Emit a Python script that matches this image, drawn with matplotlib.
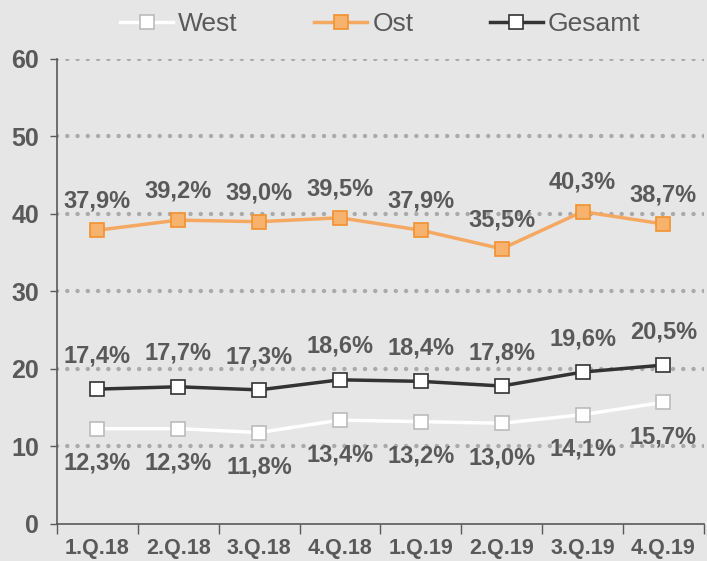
import numpy as np
import matplotlib
matplotlib.use("Agg")
from matplotlib import pyplot as plt

quarters = ["1.Q.18", "2.Q.18", "3.Q.18", "4.Q.18", "1.Q.19", "2.Q.19", "3.Q.19", "4.Q.19"]
west = [12.3, 12.3, 11.8, 13.4, 13.2, 13.0, 14.1, 15.7]
ost = [37.9, 39.2, 39.0, 39.5, 37.9, 35.5, 40.3, 38.7]
gesamt = [17.4, 17.7, 17.3, 18.6, 18.4, 17.8, 19.6, 20.5]

plt.rcParams['font.family'] = ['Liberation Sans', 'DejaVu Sans']
bg = '#e6e6e6'
txt = '#595959'

fig = plt.figure(figsize=(7.07, 5.61), dpi=100, facecolor=bg)
ax = fig.add_axes([0.0806, 0.066, 0.915, 0.829], facecolor=bg)

x = np.arange(len(quarters))

# dotted grid
for yv in range(10, 61, 10):
    ax.axhline(yv, color='#aaaaaa', lw=3.2, linestyle=(0, (0.01, 2.3)),
               dash_capstyle='round', zorder=1)

ax.plot(x, west, color='white', lw=2.5, marker='s', ms=10, mfc='white',
        mec='#bbbbbb', mew=1.2, label='West', zorder=3)
ax.plot(x, ost, color='#f5a862', lw=2.5, marker='s', ms=10, mfc='#f7b26d',
        mec='#f39130', mew=1.2, label='Ost', zorder=3)
ax.plot(x, gesamt, color='#333333', lw=2.5, marker='s', ms=10, mfc='white',
        mec='#333333', mew=1.2, label='Gesamt', zorder=3)

def fmt(v):
    return ("%.1f%%" % v).replace('.', ',')

lbl = dict(ha='center', va='center', fontsize=17, fontweight='bold', color=txt,
           textcoords='offset points', zorder=4)
for i in range(len(quarters)):
    ax.annotate(fmt(ost[i]), (x[i], ost[i]), xytext=(0, 21), **lbl)
    ax.annotate(fmt(gesamt[i]), (x[i], gesamt[i]), xytext=(0, 24), **lbl)
    ax.annotate(fmt(west[i]), (x[i], west[i]), xytext=(0, -25), **lbl)

ax.set_ylim(0, 60)
ax.set_xlim(-0.5, 7.5)
ax.set_yticks(range(0, 61, 10))
ax.set_yticklabels([str(v) for v in range(0, 61, 10)], fontsize=18,
                   fontweight='bold', color=txt)
ax.set_xticks(x)
ax.set_xticklabels(quarters, fontsize=15.5, fontweight='bold', color=txt)
ax.set_xticks(np.arange(-0.5, 8, 1), minor=True)
ax.tick_params(axis='x', which='major', length=0, pad=10)
ax.tick_params(axis='x', which='minor', length=7, color='#595959', width=1)
ax.tick_params(axis='y', length=5, color='#595959', width=1, pad=8)

for s in ['top', 'right']:
    ax.spines[s].set_visible(False)
for s in ['left', 'bottom']:
    ax.spines[s].set_color('#595959')
    ax.spines[s].set_linewidth(1.2)

ax.legend(loc='lower center', bbox_to_anchor=(0.5, 1.01), ncol=3, frameon=False,
          fontsize=19, handlelength=2.0, handletextpad=0.2, columnspacing=2.9,
          labelcolor=txt, borderaxespad=0.3)

fig.savefig('out.png', dpi=100, facecolor=bg)
